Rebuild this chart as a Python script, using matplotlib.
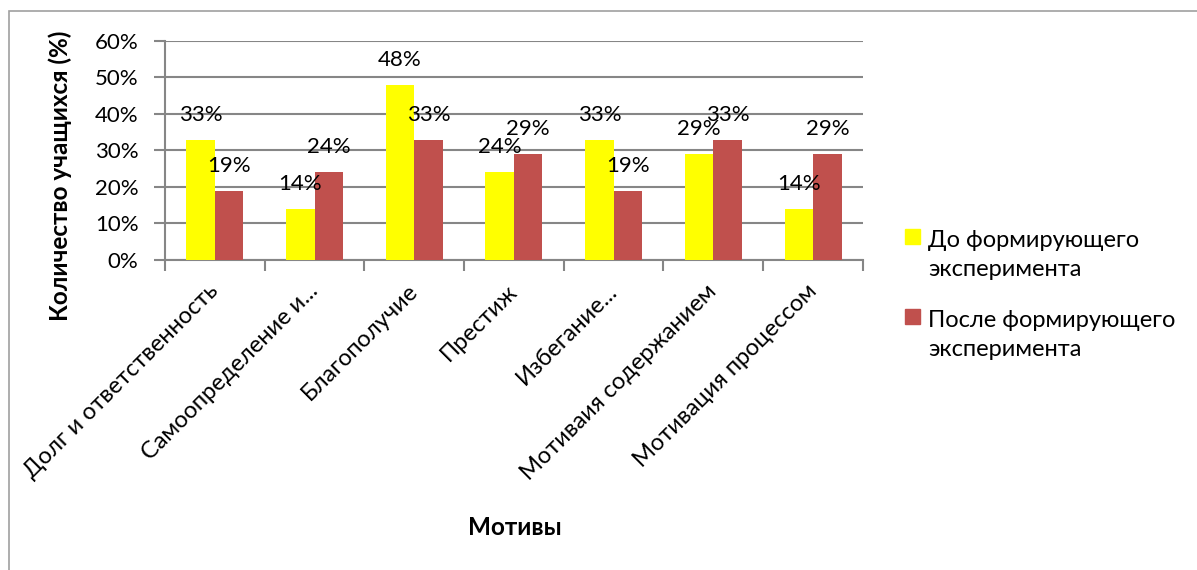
import matplotlib.pyplot as plt
import numpy as np
from matplotlib.patches import Rectangle

plt.rcParams['font.family'] = ['Lato', 'DejaVu Sans']

# Данные
motivy = ['Долг и ответственность', 'Самоопределение и...', 'Благополучие', 'Престиж',
          'Избегание...', 'Мотиваия содержанием', 'Мотивация процессом']
do_eksp = [33, 14, 48, 24, 33, 29, 14]
posle_eksp = [19, 24, 33, 29, 19, 33, 29]
serii = ['До формирующего\nэксперимента', 'После формирующего\nэксперимента']
cveta = ['#FFFF00', '#C0504D']

fig = plt.figure(figsize=(11.97, 5.70), dpi=100)
ax = fig.add_axes([0.1378, 0.5439, 0.5831, 0.3842])

x = np.arange(len(motivy))
w = 0.286
b1 = ax.bar(x - w / 2, do_eksp, w, color=cveta[0], zorder=3)
b2 = ax.bar(x + w / 2, posle_eksp, w, color=cveta[1], zorder=3)

for bars, vals in [(b1, do_eksp), (b2, posle_eksp)]:
    for r, v in zip(bars, vals):
        ax.annotate(f'{v}%', (r.get_x() + r.get_width() / 2, v), xytext=(0, 18),
                    textcoords='offset points', ha='center', va='center', fontsize=16)

ax.set_xlim(-0.5, len(motivy) - 0.5)
ax.set_ylim(0, 60)
ax.set_yticks(range(0, 61, 10))
ax.set_yticklabels([f'{t}%' for t in range(0, 61, 10)], fontsize=16)
ax.yaxis.grid(True, color='#868686', linewidth=1.5, zorder=0)

ax.set_xticks(x)
ax.set_xticklabels(motivy, rotation=45, ha='right', va='center', rotation_mode='anchor', fontsize=17)
ax.set_xticks(np.arange(-0.5, len(motivy), 1), minor=True)
ax.tick_params(axis='x', which='major', length=0, pad=20)
ax.tick_params(axis='x', which='minor', length=8, width=1.5, color='#868686')
ax.tick_params(axis='y', length=8, width=1.5, color='#868686', pad=11)

for s in ['top', 'right']:
    ax.spines[s].set_visible(False)
for s in ['left', 'bottom']:
    ax.spines[s].set_color('#868686')
    ax.spines[s].set_linewidth(1.5)

ax.set_ylabel('Количество учащихся (%)', fontsize=17.5, fontweight='bold')
ax.yaxis.set_label_coords(-0.133, 0.384)
fig.text(0.43, 0.074, 'Мотивы', fontsize=17.5, fontweight='bold', ha='center', va='center')

# легенда вручную (маркер на уровне первой строки)
leg_y = [0.584, 0.444]
for i in range(2):
    fig.patches.append(Rectangle((905 / 1197, leg_y[i] - 0.012), 15 / 1197, 15 / 570,
                                 transform=fig.transFigure, color=cveta[i]))
    fig.text(928 / 1197, leg_y[i] + 0.012, serii[i], fontsize=17, ha='left', va='top',
             linespacing=1.45)

fig.patches.append(Rectangle((9 / 1197, -0.1), 1.2, 1 - 11 / 570 + 0.1, transform=fig.transFigure,
                             fill=False, edgecolor='#A0A0A0', linewidth=1.2))

fig.savefig('out.png', dpi=100)
